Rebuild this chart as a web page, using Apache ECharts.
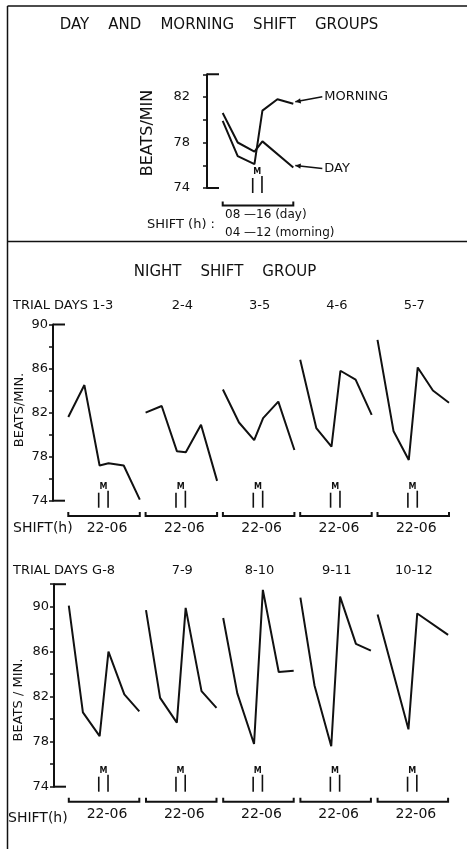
<!DOCTYPE html>
<html><head><meta charset="utf-8">
<script src="https://cdn.jsdelivr.net/npm/echarts@6/dist/echarts.min.js"></script>
<style>html,body{margin:0;padding:0;background:#fff}#c{width:467px;height:849px}</style>
</head><body><div id="c"></div>
<script>
// ---- data ----
const topHours = [0, 1.7, 3.6, 4.5, 6.2, 8];
const dayBpm = [80.6, 78.0, 77.2, 78.1, null, 75.8];
const morningBpm = [79.9, 76.8, 76.1, 80.8, 81.8, 81.4];
const topTickLabels = [74, 78, 82];

const nightHoursRow1 = [0, 1.8, 3.5, 4.5, 6.2, 8];
const days1to3 = [81.6, 84.5, 77.2, 77.4, 77.2, 74.1];
const days2to4 = [82.0, 82.6, 78.5, 78.4, 80.9, 75.8];
const days3to5 = [84.1, 81.1, 79.5, 81.5, 83.0, 78.6];
const days4to6 = [86.8, 80.6, 78.9, 85.8, 85.0, 81.8];
const days5to7 = [88.6, 80.3, 77.7, 86.1, 84.0, 82.9];

const nightHoursRow2 = [0, 1.6, 3.5, 4.5, 6.3, 8];
const days6to8 = [90.1, 80.6, 78.5, 86.0, 82.2, 80.7];
const days7to9 = [89.7, 81.9, 79.7, 89.9, 82.5, 81.0];
const days8to10 = [89.0, 82.3, 77.8, 91.5, 84.2, 84.3];
const days9to11 = [90.8, 83.0, 77.6, 90.9, 86.7, 86.1];
const days10to12 = [89.3, null, 79.1, 89.4, null, 87.5];

const nightTickLabels = [74, 78, 82, 86, 90];
const row1Trials = ['TRIAL DAYS 1-3', '2-4', '3-5', '4-6', '5-7'];
const row2Trials = ['TRIAL DAYS G-8', '7-9', '8-10', '9-11', '10-12'];
const nightShift = '22-06';
const mealHours = [3.4, 4.45];

// ---- layout ----
const FONT = 'DejaVu Sans';
const INK = '#111';
const chart = echarts.init(document.getElementById('c'), null, {renderer: 'canvas', width: 467, height: 849});

const grids = [{left: 222.7, top: 74.25, width: 70.6, height: 113.75}];
for (let i = 0; i < 5; i++) grids.push({left: 68.3 + 77.3 * i, top: 324.5, width: 71.5, height: 176.2});
for (let i = 0; i < 5; i++) grids.push({left: 68.8 + 77.2 * i, top: 584.2, width: 70.5, height: 202.5});

const panels = [
  {hours: topHours, series: [dayBpm, morningBpm], max: 84, ticks: topTickLabels, offset: 15.7, margin: 17, showAxis: true},
];
const row1 = [days1to3, days2to4, days3to5, days4to6, days5to7];
const row2 = [days6to8, days7to9, days8to10, days9to11, days10to12];
row1.forEach((d, i) => panels.push({hours: nightHoursRow1, series: [d], max: 90, ticks: nightTickLabels, offset: 15.3, margin: 5, showAxis: i === 0}));
row2.forEach((d, i) => panels.push({hours: nightHoursRow2, series: [d], max: 92, ticks: nightTickLabels, offset: 14.8, margin: 5, showAxis: i === 0}));

const xAxis = [], yAxis = [], series = [];
panels.forEach((p, gi) => {
  xAxis.push({type: 'value', gridIndex: gi, min: 0, max: 8, show: false});
  yAxis.push({
    type: 'value', gridIndex: gi, min: 74, max: p.max, interval: 2, show: p.showAxis, offset: p.offset,
    axisLine: {show: true, onZero: false, lineStyle: {color: INK, width: 2}},
    axisTick: {show: true, length: 4, lineStyle: {color: INK, width: 1.5}},
    axisLabel: {margin: p.margin, color: INK, fontFamily: FONT, fontSize: 13,
      formatter: v => p.ticks.includes(v) ? String(v) : ''},
    splitLine: {show: false}
  });
  p.series.forEach(vals => {
    series.push({
      type: 'line', xAxisIndex: gi, yAxisIndex: gi, symbol: 'none', clip: false, animation: false,
      lineStyle: {color: INK, width: 2},
      data: p.hours.map((h, k) => [h, vals[k]]).filter(q => q[1] != null)
    });
  });
});

chart.setOption({backgroundColor: '#fff', animation: false, grid: grids, xAxis, yAxis, series});

// ---- annotations ----
const g = [];
const px = (gi, x, y) => chart.convertToPixel({gridIndex: gi}, [x, y]);
const line = (x1, y1, x2, y2, w) => g.push({type: 'line', shape: {x1, y1, x2, y2}, style: {stroke: INK, lineWidth: w || 1.8}, silent: true});
const text = (t, x, y, size, align, rot) => g.push({type: 'text', x, y, rotation: rot || 0,
  style: {text: t, font: size + 'px "' + FONT + '"', fill: INK, textAlign: align || 'left', textVerticalAlign: 'middle'}, silent: true});

// frame
line(7.5, 6, 467, 6, 1.5);
line(7.5, 6, 7.5, 849, 1.5);
line(7.5, 241.5, 467, 241.5, 1.5);

text('DAY    AND    MORNING    SHIFT    GROUPS', 219, 25, 15, 'center');
text('NIGHT    SHIFT    GROUP', 225, 272, 15, 'center');

const bracketOff = [17.5, 15.3, 15];
const mealOff = [[-10, 5], [-8, 7], [-10, 5]];
panels.forEach((p, gi) => {
  const row = gi === 0 ? 0 : (gi <= 5 ? 1 : 2);
  const b0 = px(gi, 0, 74), b1 = px(gi, 8, 74), t0 = px(gi, 0, p.max);
  const yb = b0[1] + bracketOff[row];
  g.push({type: 'polyline', shape: {points: [[b0[0], yb - 4], [b0[0], yb], [b1[0], yb], [b1[0], yb - 4]]},
    style: {stroke: INK, lineWidth: 2, fill: null}, silent: true});
  // meal markers
  const m0 = px(gi, mealHours[0], 74)[0], m1 = px(gi, mealHours[1], 74)[0];
  line(m0, b0[1] + mealOff[row][0], m0, b0[1] + mealOff[row][1], 1.6);
  line(m1, b0[1] + mealOff[row][0] - 2, m1, b0[1] + mealOff[row][1], 1.6);
  g.push({type: 'text', x: (m0 + m1) / 2, y: b0[1] + mealOff[row][0] - 6,
    style: {text: 'M', font: 'bold 8px "' + FONT + '"', fill: INK, textAlign: 'center', textVerticalAlign: 'middle'}, silent: true});
  // axis caps
  if (p.showAxis) {
    const ax = b0[0] - p.offset;
    line(ax, t0[1], ax + 12, t0[1], 2);
    line(ax, b0[1], ax + 12, b0[1], 2);
  }
  if (row > 0) {
    const idx = row === 1 ? gi - 1 : gi - 6;
    const cx = (b0[0] + b1[0]) / 2;
    const labelY = row === 1 ? 306 : 571;
    const trials = row === 1 ? row1Trials : row2Trials;
    if (idx === 0) text(trials[0], 13, labelY, 13, 'left');
    else text(trials[idx], cx + 1, labelY, 13, 'center');
    text(nightShift, cx + 3, yb + 12.5, 14, 'center');
  }
});

// top panel texts
text('BEATS/MIN', 148, 133, 16, 'center', Math.PI / 2);
text('SHIFT (h) :', 215, 225, 13, 'right');
text('08 \u201416 (day)', 225, 215, 12, 'left');
text('04 \u201412 (morning)', 225, 233, 12, 'left');
// night texts
text('BEATS/MIN.', 20, 410, 13, 'center', Math.PI / 2);
text('BEATS / MIN.', 19, 700, 13, 'center', Math.PI / 2);
text('SHIFT(h)', 13, 528, 14, 'left');
text('SHIFT(h)', 8, 818, 14, 'left');

// series labels with arrows
function arrowLabel(label, vals, dy) {
  const last = vals[vals.length - 1];
  const e = px(0, 8, last);
  const tip = [e[0] + 2, e[1] - 2];
  const tail = [tip[0] + 27, tip[1] + dy];
  line(tail[0], tail[1], tip[0], tip[1], 1.5);
  const ang = Math.atan2(tail[1] - tip[1], tail[0] - tip[0]);
  const a1 = [tip[0] + 6 * Math.cos(ang - 0.45), tip[1] + 6 * Math.sin(ang - 0.45)];
  const a2 = [tip[0] + 6 * Math.cos(ang + 0.45), tip[1] + 6 * Math.sin(ang + 0.45)];
  g.push({type: 'polygon', shape: {points: [tip, a1, a2]}, style: {fill: INK}, silent: true});
  text(label, tail[0] + 2, tail[1], 13, 'left');
}
arrowLabel('MORNING', morningBpm, -5);
arrowLabel('DAY', dayBpm, 3);

chart.setOption({graphic: g});
</script>
</body></html>
